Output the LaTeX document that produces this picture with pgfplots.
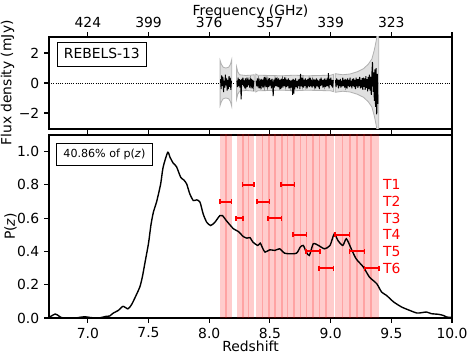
\documentclass[border=0pt]{standalone}
\usepackage{fontspec}
\setmainfont{DejaVu Sans}
\usepackage{pgfplots}
\pgfplotsset{compat=1.18}

\pgfplotstableread{
z      p    dz
8.137  0.7  0.048
8.323  0.8  0.048
8.250  0.6  0.030
8.444  0.7  0.052
8.541  0.6  0.055
8.646  0.8  0.055
8.747  0.5  0.055
8.855  0.4  0.057
8.963  0.3  0.059
9.095  0.5  0.059
9.216  0.4  0.062
9.338  0.3  0.060
}\tunings

\begin{document}
\begin{tikzpicture}
\pgfplotsset{
  every axis/.append style={
    scale only axis, width=290.16pt,
    xmin=6.68, xmax=10.0,
    axis line style={line width=0.8pt},
    every tick/.style={black, line width=0.8pt},
    major tick length=3.5pt, tick align=outside,
    tick label style={font=\fontsize{10}{12}\selectfont},
    label style={font=\fontsize{10}{12}\selectfont},
    xtick={7,7.5,8,8.5,9,9.5,10},
    minor tick num=0,
  }
}

% ---------- lower panel: P(z)
\begin{axis}[
  name=lower, height=131.76pt,
  ymin=0, ymax=1.1,
  xticklabels={7.0,7.5,8.0,8.5,9.0,9.5,10.0},
  ytick={0,0.2,0.4,0.6,0.8,1.0},
  yticklabels={0.0,0.2,0.4,0.6,0.8,1.0},
  xtick pos=bottom, ytick pos=left,
  xlabel={Redshift}, ylabel={P(\textit{z})},
  xlabel style={at={(axis description cs:0.5,0)}, anchor=base, yshift=-24.1pt},
  ylabel style={at={(axis description cs:-0.0955,0.5)}, anchor=center},
]
% spectral windows
\addplot[draw=none, fill=red, fill opacity=0.2] coordinates {(8.089,0) (8.089,1.2) (8.145,1.2) (8.145,0)};
\addplot[draw=none, fill=red, fill opacity=0.2] coordinates {(8.131,0) (8.131,1.2) (8.185,1.2) (8.185,0)};
\addplot[draw=none, fill=red, fill opacity=0.2] coordinates {(8.226,0) (8.226,1.2) (8.283,1.2) (8.283,0)};
\addplot[draw=none, fill=red, fill opacity=0.2] coordinates {(8.269,0) (8.269,1.2) (8.330,1.2) (8.330,0)};
\addplot[draw=none, fill=red, fill opacity=0.2] coordinates {(8.316,0) (8.316,1.2) (8.371,1.2) (8.371,0)};
\addplot[draw=none, fill=red, fill opacity=0.2] coordinates {(8.383,0) (8.383,1.2) (8.446,1.2) (8.446,0)};
\addplot[draw=none, fill=red, fill opacity=0.2] coordinates {(8.432,0) (8.432,1.2) (8.499,1.2) (8.499,0)};
\addplot[draw=none, fill=red, fill opacity=0.2] coordinates {(8.485,0) (8.485,1.2) (8.549,1.2) (8.549,0)};
\addplot[draw=none, fill=red, fill opacity=0.2] coordinates {(8.535,0) (8.535,1.2) (8.606,1.2) (8.606,0)};
\addplot[draw=none, fill=red, fill opacity=0.2] coordinates {(8.592,0) (8.592,1.2) (8.652,1.2) (8.652,0)};
\addplot[draw=none, fill=red, fill opacity=0.2] coordinates {(8.638,0) (8.638,1.2) (8.705,1.2) (8.705,0)};
\addplot[draw=none, fill=red, fill opacity=0.2] coordinates {(8.691,0) (8.691,1.2) (8.759,1.2) (8.759,0)};
\addplot[draw=none, fill=red, fill opacity=0.2] coordinates {(8.745,0) (8.745,1.2) (8.808,1.2) (8.808,0)};
\addplot[draw=none, fill=red, fill opacity=0.2] coordinates {(8.794,0) (8.794,1.2) (8.862,1.2) (8.862,0)};
\addplot[draw=none, fill=red, fill opacity=0.2] coordinates {(8.848,0) (8.848,1.2) (8.915,1.2) (8.915,0)};
\addplot[draw=none, fill=red, fill opacity=0.2] coordinates {(8.901,0) (8.901,1.2) (8.970,1.2) (8.970,0)};
\addplot[draw=none, fill=red, fill opacity=0.2] coordinates {(8.956,0) (8.956,1.2) (9.025,1.2) (9.025,0)};
\addplot[draw=none, fill=red, fill opacity=0.2] coordinates {(9.038,0) (9.038,1.2) (9.106,1.2) (9.106,0)};
\addplot[draw=none, fill=red, fill opacity=0.2] coordinates {(9.092,0) (9.092,1.2) (9.165,1.2) (9.165,0)};
\addplot[draw=none, fill=red, fill opacity=0.2] coordinates {(9.151,0) (9.151,1.2) (9.226,1.2) (9.226,0)};
\addplot[draw=none, fill=red, fill opacity=0.2] coordinates {(9.212,0) (9.212,1.2) (9.282,1.2) (9.282,0)};
\addplot[draw=none, fill=red, fill opacity=0.2] coordinates {(9.268,0) (9.268,1.2) (9.341,1.2) (9.341,0)};
\addplot[draw=none, fill=red, fill opacity=0.2] coordinates {(9.327,0) (9.327,1.2) (9.396,1.2) (9.396,0)};

% P(z)
\addplot[black, line width=1pt, smooth, tension=0.4] coordinates {
(6.68,0.005) (6.70,0.012) (6.73,0.024) (6.75,0.018) (6.78,0.003) (6.82,0.0)
(6.90,0.0) (6.95,0.006) (6.98,0.007) (7.02,0.003) (7.06,0.0) (7.10,0.001)
(7.15,0.01) (7.18,0.012) (7.21,0.03) (7.25,0.045) (7.29,0.07) (7.33,0.055)
(7.36,0.08) (7.40,0.14) (7.43,0.19) (7.45,0.25) (7.47,0.33) (7.50,0.45)
(7.52,0.56) (7.54,0.636) (7.567,0.70) (7.60,0.806) (7.62,0.906) (7.658,0.996)
(7.677,0.966) (7.704,0.93) (7.73,0.91) (7.765,0.846) (7.79,0.83) (7.814,0.806)
(7.84,0.746) (7.869,0.706) (7.897,0.71) (7.924,0.696) (7.95,0.626) (7.979,0.576)
(8.012,0.556) (8.047,0.576) (8.088,0.616) (8.11,0.615) (8.14,0.586) (8.20,0.536)
(8.24,0.52) (8.28,0.49) (8.31,0.48) (8.336,0.483) (8.36,0.456) (8.40,0.436)
(8.42,0.45) (8.44,0.42) (8.46,0.396) (8.50,0.41) (8.54,0.406) (8.58,0.416)
(8.62,0.39) (8.665,0.386) (8.72,0.39) (8.75,0.426) (8.775,0.436) (8.80,0.396)
(8.825,0.376) (8.857,0.446) (8.90,0.436) (8.95,0.416) (8.995,0.436) (9.03,0.506)
(9.06,0.466) (9.10,0.436) (9.13,0.476) (9.17,0.416) (9.21,0.356) (9.27,0.306)
(9.32,0.246) (9.38,0.206) (9.42,0.156) (9.46,0.136) (9.52,0.096) (9.585,0.066)
(9.65,0.046) (9.71,0.03) (9.75,0.032) (9.79,0.036) (9.83,0.026) (9.89,0.022)
(9.93,0.015) (9.955,0.006) (10.0,0.003)
};

% tunings
\addplot[red, line width=1.4pt, only marks, mark=-, mark size=0.5pt,
  error bars/.cd, x dir=both, x explicit,
  error bar style={line width=1.4pt},
  error mark options={red, line width=1.1pt, mark size=1.8pt, rotate=90}]
  table[x=z, y=p, x error=dz] {\tunings};

\node[red, anchor=west, inner xsep=0pt, font=\fontsize{10}{12}\selectfont] at (axis cs:9.431,0.8) {T1};
\node[red, anchor=west, inner xsep=0pt, font=\fontsize{10}{12}\selectfont] at (axis cs:9.431,0.7) {T2};
\node[red, anchor=west, inner xsep=0pt, font=\fontsize{10}{12}\selectfont] at (axis cs:9.431,0.6) {T3};
\node[red, anchor=west, inner xsep=0pt, font=\fontsize{10}{12}\selectfont] at (axis cs:9.431,0.5) {T4};
\node[red, anchor=west, inner xsep=0pt, font=\fontsize{10}{12}\selectfont] at (axis cs:9.431,0.4) {T5};
\node[red, anchor=west, inner xsep=0pt, font=\fontsize{10}{12}\selectfont] at (axis cs:9.431,0.3) {T6};

\node[draw=black, line width=0.8pt, fill=white, anchor=north west,
  inner xsep=5pt, inner ysep=4pt, text height=6.1pt, text depth=1.7pt,
  font=\fontsize{8}{10}\selectfont]
  at ([xshift=5pt, yshift=-5.8pt]rel axis cs:0,1) {40.86\% of p(\textit{z})};
\end{axis}

% ---------- upper panel: spectrum
\begin{axis}[
  name=upper, height=66.24pt,
  at={(0,136.08pt)}, anchor=south west,
  ymin=-3.07, ymax=3.07,
  xticklabels={424,399,376,357,339,323},
  ytick={-2,0,2}, yticklabels={−2,0,2},
  xtick pos=both, xticklabel pos=upper, ytick pos=left,
  xlabel={Frequency (GHz)}, ylabel={Flux density (mJy)},
  xlabel style={at={(axis description cs:0.5,1)}, anchor=base, yshift=15.8pt},
  ylabel style={at={(axis description cs:-0.103,0.5)}, anchor=center},
]
\addplot[black, densely dotted, line width=0.6pt] coordinates {(6.68,0) (10.0,0)};

% noise envelopes
\addplot[fill=black!12, draw=black!30, line width=0.6pt] coordinates {
(8.090,1.5) (8.100,1.25) (8.115,1.05) (8.137,1.0) (8.160,1.05) (8.175,1.25) (8.185,1.55)
(8.185,-1.55) (8.175,-1.25) (8.160,-1.05) (8.137,-1.0) (8.115,-1.05) (8.100,-1.25) (8.090,-1.5)
} -- cycle;
\addplot[fill=black!12, draw=black!30, line width=0.6pt] coordinates {
(8.226,1.05) (8.235,0.75) (8.250,0.55) (8.300,0.5) (8.340,0.52) (8.371,0.55)
(8.371,-0.55) (8.340,-0.52) (8.300,-0.5) (8.250,-0.55) (8.235,-0.75) (8.226,-1.05)
} -- cycle;
\addplot[fill=black!12, draw=black!30, line width=0.6pt] coordinates {
(8.383,0.6) (8.400,0.52) (8.500,0.5) (8.600,0.48) (8.700,0.52) (8.800,0.48) (8.900,0.5) (9.000,0.52) (9.025,0.58)
(9.025,-0.58) (9.000,-0.52) (8.900,-0.5) (8.800,-0.48) (8.700,-0.52) (8.600,-0.48) (8.500,-0.5) (8.400,-0.52) (8.383,-0.6)
} -- cycle;
\addplot[fill=black!12, draw=black!30, line width=0.6pt] coordinates {
(9.038,0.62) (9.100,0.55) (9.160,0.6) (9.220,0.75) (9.270,0.95) (9.310,1.25) (9.340,1.6)
(9.360,2.2) (9.375,2.8) (9.385,3.3) (9.396,3.6)
(9.396,-3.6) (9.385,-3.3) (9.375,-2.8) (9.360,-2.2) (9.340,-1.6) (9.310,-1.25) (9.270,-0.95)
(9.220,-0.75) (9.160,-0.6) (9.100,-0.55) (9.038,-0.62)
} -- cycle;

% spectrum
\addplot[black, line width=0.7pt] coordinates {
(8.093,0.25) (8.098,-0.4) (8.103,0.5) (8.108,-0.2) (8.113,0.4) (8.118,-0.6) (8.123,0.15)
(8.128,-0.3) (8.133,0.55) (8.138,-0.15) (8.143,0.3) (8.148,-0.5) (8.153,0.2) (8.158,-0.4)
(8.163,0.45) (8.168,-0.25) (8.173,0.35) (8.178,-0.45) (8.183,0.15)
};
\addplot[black, line width=0.7pt] coordinates {
(8.228,0.15) (8.233,-0.28) (8.238,0.35) (8.243,-0.2) (8.248,0.25) (8.253,-0.3) (8.258,0.2)
(8.263,-1.1) (8.268,0.28) (8.273,-0.12) (8.278,0.35) (8.283,-0.22) (8.288,0.18) (8.293,-0.35)
(8.298,0.3) (8.303,-0.2) (8.308,0.12) (8.313,-0.28) (8.318,0.35) (8.323,-0.15) (8.328,0.22)
(8.333,-0.3) (8.338,0.2) (8.343,-0.12) (8.348,0.28) (8.353,-0.35) (8.358,0.2) (8.363,-0.22)
(8.368,0.15)
};
\addplot[black, line width=0.7pt] coordinates {
(8.387,0.15) (8.392,-0.22) (8.397,0.3) (8.402,-0.1) (8.407,0.18) (8.412,-0.35) (8.417,0.05) (8.422,-0.2)
(8.427,0.28) (8.432,-0.15) (8.437,0.22) (8.442,-0.3) (8.447,0.12) (8.452,-0.18) (8.457,0.4) (8.462,-0.05)
(8.467,0.2) (8.472,-0.28) (8.477,0.15) (8.482,-0.22) (8.487,0.1) (8.492,-0.25) (8.497,0.32) (8.502,-0.18)
(8.507,0.2) (8.512,-0.35) (8.517,0.28) (8.522,-0.1) (8.527,-0.88) (8.532,0.22) (8.537,-0.3) (8.542,0.15)
(8.547,-0.2) (8.552,0.35) (8.557,-0.22) (8.562,0.12) (8.567,-0.28) (8.572,0.3) (8.577,-0.15) (8.582,0.2)
(8.587,-0.4) (8.592,0.28) (8.597,-0.12) (8.602,0.2) (8.607,-0.3) (8.612,0.25) (8.617,-0.2) (8.622,0.38)
(8.627,-0.15) (8.632,0.12) (8.637,-0.28) (8.642,0.22) (8.647,-0.2) (8.652,0.3) (8.657,-0.35) (8.662,0.2)
(8.667,-0.22) (8.672,0.15) (8.677,-0.3) (8.682,0.2) (8.687,-0.8) (8.692,0.28) (8.697,-0.7) (8.702,0.2)
(8.707,-0.15) (8.712,0.3) (8.717,-0.28) (8.722,0.12) (8.727,-0.35) (8.732,0.22) (8.737,-0.2) (8.742,0.28)
(8.747,-0.4) (8.752,0.6) (8.757,-0.22) (8.762,0.35) (8.767,-0.12) (8.772,0.2) (8.777,-0.3) (8.782,0.22)
(8.787,-0.2) (8.792,0.3) (8.797,-0.15) (8.802,0.2) (8.807,-0.35) (8.812,0.28) (8.817,-0.22) (8.822,0.15)
(8.827,-0.28) (8.832,0.35) (8.837,-0.2) (8.842,0.22) (8.847,-0.3) (8.852,0.12) (8.857,-0.22) (8.862,0.28)
(8.867,-0.15) (8.872,0.2) (8.877,-0.35) (8.882,0.3) (8.887,-0.2) (8.892,0.22) (8.897,-0.28) (8.902,0.15)
(8.907,-0.4) (8.912,0.28) (8.917,-0.2) (8.922,0.35) (8.927,-0.15) (8.932,0.2) (8.937,-0.3) (8.942,0.22)
(8.947,-0.12) (8.952,0.3) (8.957,-0.28) (8.962,0.2) (8.967,-0.22) (8.972,0.3) (8.977,-0.2) (8.982,0.66)
(8.987,-0.35) (8.992,0.28) (8.997,-0.12) (9.002,0.35) (9.007,-0.22) (9.012,0.2) (9.017,-0.3) (9.022,0.2)
};
\addplot[black, line width=0.7pt] coordinates {
(9.040,0.2) (9.045,-0.28) (9.050,0.3) (9.055,-0.15) (9.060,0.22) (9.065,-0.35) (9.070,0.2) (9.075,-0.2)
(9.080,0.28) (9.085,-0.3) (9.090,0.15) (9.095,-0.22) (9.100,0.35) (9.105,-0.2) (9.110,0.2) (9.115,-0.3)
(9.120,0.28) (9.125,-0.15) (9.130,0.22) (9.135,-0.38) (9.140,0.3) (9.145,-0.2) (9.150,0.2) (9.155,-0.28)
(9.160,0.35) (9.165,-0.22) (9.170,0.15) (9.175,-0.35) (9.180,0.28) (9.185,-0.2) (9.190,0.3) (9.195,-0.28)
(9.200,0.2) (9.205,-0.4) (9.210,0.35) (9.215,-0.22) (9.220,0.25) (9.225,-0.32) (9.230,0.28) (9.235,-0.2)
(9.240,0.4) (9.245,-0.35) (9.250,0.2) (9.255,-0.3) (9.260,0.32) (9.265,-0.45) (9.270,0.35) (9.275,-0.25)
(9.280,0.3) (9.285,-0.45) (9.290,0.45) (9.295,-0.32) (9.300,0.25) (9.305,-0.55) (9.310,0.4) (9.315,-0.4)
(9.320,0.55) (9.325,-0.5) (9.330,0.4) (9.335,-0.8) (9.340,0.65) (9.345,1.4) (9.350,-0.6) (9.355,0.7)
(9.360,-1.2) (9.365,0.9) (9.370,-1.6) (9.375,1.0) (9.380,-2.1) (9.385,0.6) (9.390,-1.4)
};

\node[draw=black, line width=0.8pt, fill=white, anchor=north west,
  inner xsep=4.8pt, inner ysep=4.5pt, text height=7.5pt, text depth=1.2pt,
  font=\fontsize{10}{12}\selectfont]
  at ([xshift=5.5pt, yshift=-3.4pt]rel axis cs:0,1) {REBELS-13};
\end{axis}

\pgfresetboundingbox
\useasboundingbox (-35.28pt,-29.52pt) rectangle (305.28pt,228.96pt);
\end{tikzpicture}
\end{document}
